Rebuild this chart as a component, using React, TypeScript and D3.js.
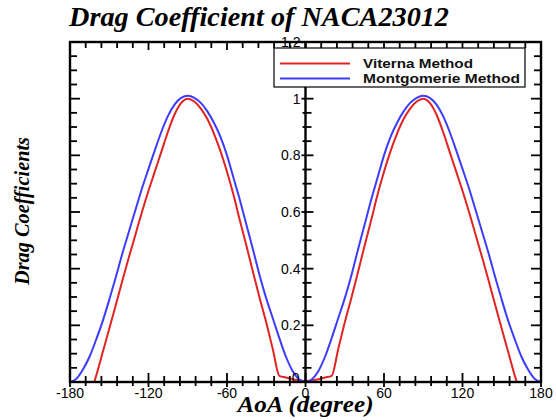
import * as d3 from "d3";

// AoA in degrees, 5 degree steps
const angles = [
  -180, -175, -170, -165, -160, -155, -150, -145, -140, -135, -130, -125, -120, -115, -110, -105, -100, -95,
  -90, -85, -80, -75, -70, -65, -60, -55, -50, -45, -40, -35, -30, -25, -20, -15, -10, -5,
  0, 5, 10, 15, 20, 25, 30, 35, 40, 45, 50, 55, 60, 65, 70, 75, 80, 85,
  90, 95, 100, 105, 110, 115, 120, 125, 130, 135, 140, 145, 150, 155, 160, 165, 170, 175, 180,
];

const viterna = [
  -0.17, -0.14, -0.1, -0.05, 0.022, 0.105, 0.188, 0.272, 0.357, 0.44, 0.52, 0.6, 0.675, 0.745, 0.815, 0.885, 0.945, 0.985,
  1.0, 0.99, 0.965, 0.928, 0.877, 0.815, 0.742, 0.66, 0.567, 0.478, 0.386, 0.296, 0.21, 0.116, 0.022, 0.016, 0.01, 0.006,
  0.003, 0.006, 0.01, 0.016, 0.022, 0.116, 0.21, 0.296, 0.386, 0.478, 0.567, 0.66, 0.742, 0.815, 0.877, 0.928, 0.965, 0.99,
  1.0, 0.985, 0.945, 0.885, 0.815, 0.745, 0.675, 0.6, 0.52, 0.44, 0.357, 0.272, 0.188, 0.105, 0.022, -0.05, -0.1, -0.14, -0.17,
];

const montgomerie = [
  0, 0.012, 0.045, 0.09, 0.15, 0.215, 0.29, 0.37, 0.453, 0.53, 0.607, 0.683, 0.752, 0.82, 0.885, 0.94, 0.98, 1.003,
  1.01, 1.003, 0.985, 0.955, 0.915, 0.865, 0.8, 0.72, 0.64, 0.552, 0.465, 0.375, 0.295, 0.225, 0.155, 0.09, 0.04, 0.01,
  0, 0.01, 0.04, 0.09, 0.155, 0.225, 0.295, 0.375, 0.465, 0.552, 0.64, 0.72, 0.8, 0.865, 0.915, 0.955, 0.985, 1.003,
  1.01, 1.003, 0.98, 0.94, 0.885, 0.82, 0.752, 0.683, 0.607, 0.53, 0.453, 0.37, 0.29, 0.215, 0.15, 0.09, 0.045, 0.012, 0,
];

const xTickLabels = [-180, -120, -60, 0, 60, 120, 180];
const yTickLabels = [0.2, 0.4, 0.6, 0.8, 1, 1.2];

const series = [
  { name: "Viterna Method", values: viterna, color: "#e32222", textLen: 110 },
  { name: "Montgomerie Method", values: montgomerie, color: "#3c3cff", textLen: 157 },
];

const W = 556;
const H = 420;
const left = 70;
const right = 541;
const top = 42;
const bottom = 382;

export default function App() {
  const x = d3.scaleLinear().domain([-180, 180]).range([left, right]);
  const y = d3.scaleLinear().domain([0, 1.2]).range([bottom, top]);
  const x0 = x(0);

  const line = d3
    .line<number>()
    .x((_, i) => x(angles[i]))
    .y((d) => y(d))
    .curve(d3.curveMonotoneX);

  // minor x ticks every 12 degrees, major every 60
  const xMinor = d3.range(-180, 181, 12);
  // minor y ticks every 0.05, major every 0.2
  const yMinor = d3.range(0, 25).map((k) => k * 0.05);
  const isMajorY = (k: number) => k % 4 === 0;

  const sans = "'Liberation Sans', Arial, Helvetica, sans-serif";
  const serif = "'Liberation Serif', 'Times New Roman', serif";
  const tickW = 1.8;

  return (
    <svg
      width={W}
      height={H}
      style={{ position: "absolute", left: 0, top: 0, background: "#fff" }}
    >
      <defs>
        <clipPath id="plot">
          <rect x={left} y={top} width={right - left} height={bottom - top} />
        </clipPath>
      </defs>

      {/* title */}
      <text
        x={69}
        y={26}
        fontFamily={serif}
        fontWeight="bold"
        fontStyle="italic"
        fontSize={27}
        textLength={380}
        lengthAdjust="spacingAndGlyphs"
        fill="#000"
      >
        Drag Coefficient of NACA23012
      </text>

      {/* curves */}
      <g clipPath="url(#plot)">
        {series.map((s) => (
          <path key={s.name} d={line(s.values) ?? ""} fill="none" stroke={s.color} strokeWidth={2} />
        ))}
      </g>

      {/* frame */}
      <rect x={left} y={top} width={right - left} height={bottom - top} fill="none" stroke="#000" strokeWidth={2.4} />

      {/* top and bottom ticks */}
      {xMinor.map((d) => {
        const major = d % 60 === 0;
        return (
          <g key={"xt" + d}>
            <line x1={x(d)} x2={x(d)} y1={top} y2={top + (major ? 8 : 6)} stroke="#000" strokeWidth={tickW} />
            <line
              x1={x(d)}
              x2={x(d)}
              y1={bottom - (major ? 9 : 6)}
              y2={bottom + (major ? 5 : 4)}
              stroke="#000"
              strokeWidth={tickW}
            />
          </g>
        );
      })}

      {/* left / right / center ticks */}
      {yMinor.map((v, k) => {
        const major = isMajorY(k);
        const len = major ? 10 : 7;
        return (
          <g key={"yt" + k}>
            <line x1={left} x2={left + len} y1={y(v)} y2={y(v)} stroke="#000" strokeWidth={tickW} />
            <line x1={right - len} x2={right} y1={y(v)} y2={y(v)} stroke="#000" strokeWidth={tickW} />
            <line
              x1={x0 - (major ? 4 : 3)}
              x2={x0 + (major ? 8 : 6)}
              y1={y(v)}
              y2={y(v)}
              stroke="#000"
              strokeWidth={tickW}
            />
          </g>
        );
      })}

      {/* center y axis */}
      <line x1={x0} x2={x0} y1={top} y2={bottom} stroke="#000" strokeWidth={2.4} />

      {/* y tick labels */}
      <g fontFamily={sans} fontSize={14} fill="#000" textAnchor="end">
        <text x={x0 - 6} y={bottom - 4} dy="0.35em">
          0
        </text>
        {yTickLabels.map((v) => (
          <text key={"yl" + v} x={x0 - 5} y={y(v)} dy="0.35em">
            {v}
          </text>
        ))}
      </g>

      {/* x tick labels */}
      <g fontFamily={sans} fontSize={14} fill="#000" textAnchor="middle">
        {xTickLabels.map((d) => (
          <text key={"xl" + d} x={x(d)} y={bottom + 16}>
            {d}
          </text>
        ))}
      </g>

      {/* axis titles */}
      <text
        x={x0}
        y={412}
        textAnchor="middle"
        fontFamily={serif}
        fontWeight="bold"
        fontStyle="italic"
        fontSize={23}
        textLength={136}
        lengthAdjust="spacingAndGlyphs"
      >
        AoA (degree)
      </text>
      <text
        transform={`translate(29,211) rotate(-90)`}
        textAnchor="middle"
        fontFamily={serif}
        fontWeight="bold"
        fontStyle="italic"
        fontSize={20}
        textLength={148}
        lengthAdjust="spacingAndGlyphs"
      >
        Drag Coefficients
      </text>

      {/* legend */}
      <g>
        <rect x={274} y={48} width={251} height={39} fill="#fff" stroke="#000" strokeWidth={1.2} />
        {series.map((s, i) => (
          <g key={"lg" + s.name} transform={`translate(0,${63.5 + i * 15})`}>
            <line x1={280} x2={350} y1={0} y2={0} stroke={s.color} strokeWidth={2} />
            <text
              x={363}
              y={0}
              dy="0.36em"
              fontFamily={sans}
              fontWeight="bold"
              fontSize={13}
              textLength={s.textLen}
              lengthAdjust="spacingAndGlyphs"
              fill="#111"
            >
              {s.name}
            </text>
          </g>
        ))}
      </g>
    </svg>
  );
}
